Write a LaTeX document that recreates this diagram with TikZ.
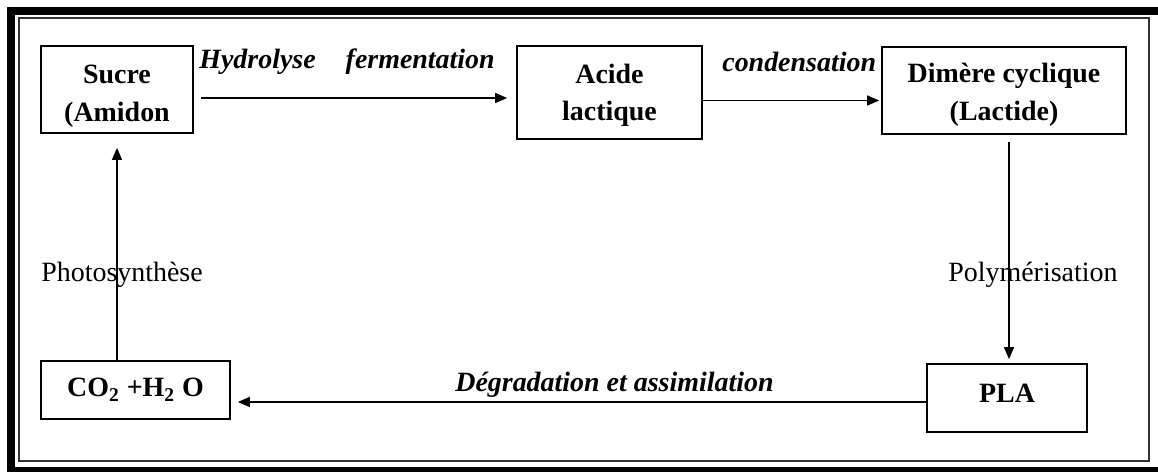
\documentclass[tikz,border=0pt]{standalone}
\usepackage{fontspec}
\setmainfont{Liberation Serif}
\usetikzlibrary{arrows.meta,calc}

\newcommand{\TopStrut}[1]{\rule{0pt}{#1}}

\begin{document}
\begin{tikzpicture}[x=0.02cm,y=-0.02cm]
    % --- Dimensions (one unit = one pixel, y downwards) ---
    \def\PicW{1158}   % Total width
    \def\PicH{472}    % Total height
    \def\BarA{7}      % outer edge of the thick bars
    \def\BarB{15}     % inner edge of the thick bars
    \def\LineL{19}    % thin inner border, left
    \def\LineT{18}    % thin inner border, top
    \def\LineR{1149}  % thin inner border, right
    \def\LineB{461}   % thin inner border, bottom

    % --- Styles ---
    \tikzset{
        box style/.style={
            draw=black,
            line width=1pt,
            align=center,
            inner sep=0pt,
            font=\fontsize{15.9}{21.6}\selectfont\bfseries
        },
        flow arrow/.style={
            -{Triangle[length=2.4mm,width=2mm]},
            line width=0.8pt
        },
        step text/.style={font=\fontsize{15.9}{19}\selectfont\bfseries\itshape, inner sep=0pt, anchor=base west},
        side text/.style={font=\fontsize{15.9}{19}\selectfont, inner sep=0pt, anchor=base west}
    }

    \fill[white] (0,0) rectangle (\PicW,\PicH);
    \useasboundingbox (0,0) rectangle (\PicW,\PicH);

    % =========================================================
    % 1. PAGE FRAME (thick bars + thin inner line)
    % =========================================================
    \fill[black] (\BarA,\BarA) rectangle (\PicW,\BarB);
    \fill[black] (\BarA,\BarA) rectangle (\BarB,\PicH);
    \fill[black] (\BarA,467) rectangle (\PicW,\PicH);
    \draw[line width=0.8pt, black!80] (\LineL,\LineT) rectangle (\LineR,\LineB);

    % =========================================================
    % 2. BOXES
    % =========================================================
    \node[box style, minimum width=3.04cm, minimum height=1.74cm] (sucre) at (117,89.5) {\TopStrut{0.65cm}Sucre\\(Amidon};
    \node[box style, minimum width=3.7cm, minimum height=1.86cm] (acide) at (609.5,92.5) {\TopStrut{0.5cm}Acide\\lactique};
    \node[box style, minimum width=4.88cm, minimum height=1.74cm] (dimere) at (1004,90.5) {\TopStrut{0.57cm}Dimère cyclique\\(Lactide)};
    \node[box style, minimum width=3.2cm, minimum height=1.36cm, text depth=0.2cm] (pla) at (1007,398) {PLA};
    \node[box style, minimum width=3.78cm, minimum height=1.16cm] (co2) at (135.5,390) {CO\textsubscript{2} +H\textsubscript{2} O};

    % =========================================================
    % 3. ARROWS
    % =========================================================
    \draw[flow arrow] ($(sucre.east)+(7,8.5)$) -- ($(acide.west)+(-9,5.5)$);
    \draw[flow arrow] ($(acide.east)+(0,8)$) -- ($(dimere.west)+(-2,10)$);
    \draw[flow arrow] ($(dimere.south)+(5,7)$) -- ($(pla.north)+(2,-4)$);
    \draw[flow arrow] ($(pla.west)+(0,4)$) -- ($(co2.east)+(7,12)$);
    \draw[flow arrow] ($(co2.north)+(-18.5,0)$) -- ($(sucre.south)+(0,14)$);

    % =========================================================
    % 4. LABELS
    % =========================================================
    \node[step text] (lbl_hydro) at (199,69) {Hydrolyse\hspace{0.6cm}fermentation};
    \node[step text] (lbl_cond) at (722,72) {condensation};
    \node[step text] (lbl_degr) at (455,391) {Dégradation et assimilation};
    \node[side text] (lbl_photo) at (41,282) {Photosynthèse};
    \node[side text] (lbl_poly) at (948,282) {Polymérisation};

\end{tikzpicture}
\end{document}
